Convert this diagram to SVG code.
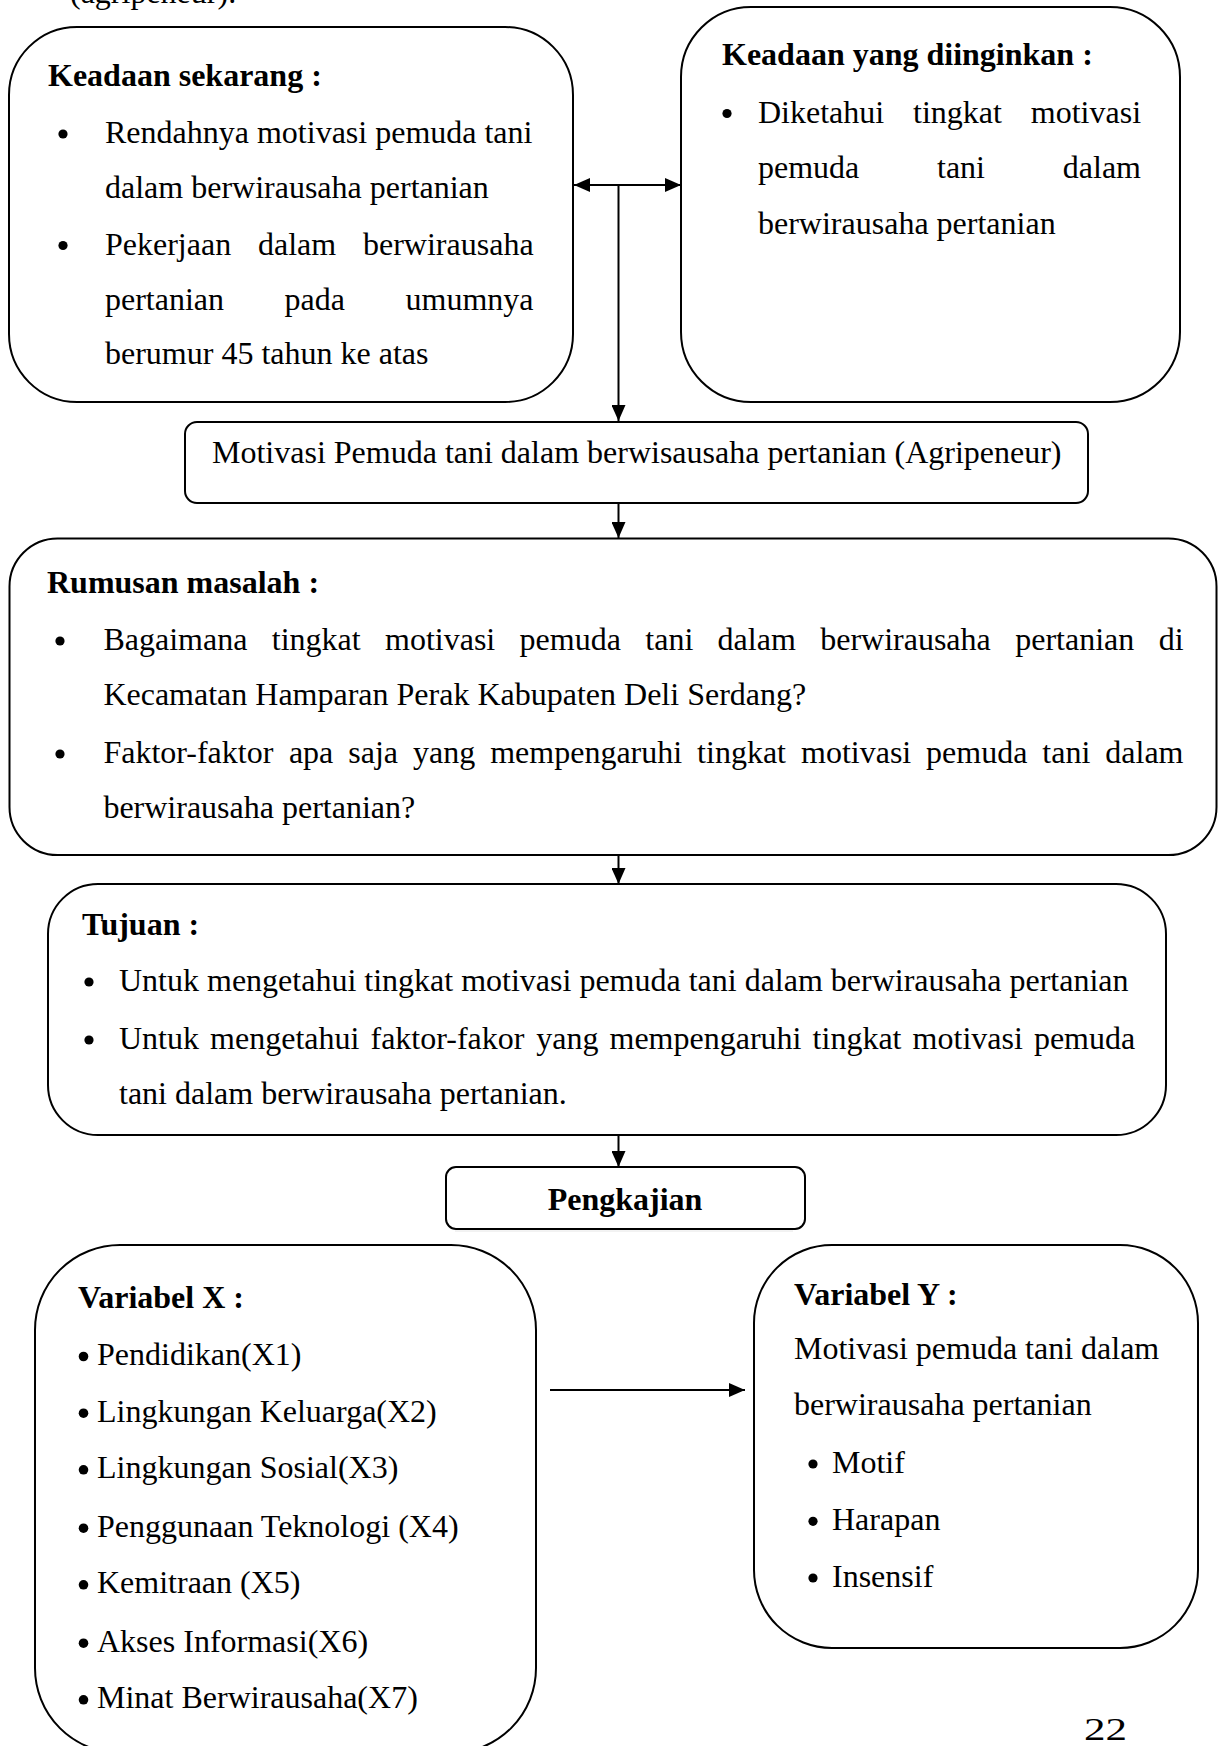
<svg xmlns="http://www.w3.org/2000/svg" width="1219" height="1746" viewBox="0 0 1219 1746">
<style>
.box{fill:none;stroke:#000;stroke-width:2}
.t{font-family:"Liberation Serif","Times New Roman",serif;font-size:32px;fill:#000}
.b{font-weight:bold}
.c{stroke:#000;stroke-width:2;fill:none}
.dot{fill:#000}
</style>
<defs>
<marker id="ah" markerWidth="16" markerHeight="14" refX="16" refY="7" orient="auto-start-reverse" markerUnits="userSpaceOnUse">
<path d="M0,0 L16,7 L0,14 z" fill="#000"/>
</marker>
</defs>
<rect x="0" y="0" width="1219" height="1746" fill="#fff"/>
<text class="t" x="70" y="3">(agripeneur).</text>

<g id="keadaan-sekarang">
<rect class="box" x="9" y="27" width="564" height="375" rx="68"/>
<text class="t b" x="48" y="86">Keadaan sekarang :</text>
<circle class="dot" cx="63" cy="134" r="4.6"/>
<text class="t" x="105" y="143">Rendahnya motivasi pemuda tani</text>
<text class="t" x="105" y="198">dalam berwirausaha pertanian</text>
<circle class="dot" cx="63" cy="245.5" r="4.6"/>
<text class="t" y="254.5"><tspan x="105">Pekerjaan</tspan><tspan x="258">dalam</tspan><tspan x="363">berwirausaha</tspan></text>
<text class="t" y="309.5"><tspan x="105">pertanian</tspan><tspan x="284.5">pada</tspan><tspan x="405.5">umumnya</tspan></text>
<text class="t" x="105" y="364">berumur 45 tahun ke atas</text>
</g>

<g id="keadaan-diinginkan">
<rect class="box" x="681" y="7" width="499" height="395" rx="70"/>
<text class="t b" x="722" y="65">Keadaan yang diinginkan :</text>
<circle class="dot" cx="727" cy="113.5" r="4.6"/>
<text class="t" y="122.5"><tspan x="758">Diketahui</tspan><tspan x="913">tingkat</tspan><tspan x="1030.8">motivasi</tspan></text>
<text class="t" y="178"><tspan x="758">pemuda</tspan><tspan x="937">tani</tspan><tspan x="1062.8">dalam</tspan></text>
<text class="t" x="758" y="233.5">berwirausaha pertanian</text>
</g>

<g id="motivasi">
<rect class="box" x="185" y="422" width="903" height="81" rx="12"/>
<text class="t" x="212" y="463">Motivasi Pemuda tani dalam berwisausaha pertanian (Agripeneur)</text>
</g>

<g id="rumusan-masalah">
<rect class="box" x="9.5" y="538.5" width="1207" height="316.5" rx="48"/>
<text class="t b" x="47" y="593">Rumusan masalah :</text>
<circle class="dot" cx="60" cy="641" r="4.6"/>
<text class="t" y="650"><tspan x="103.4">Bagaimana</tspan><tspan x="271.8">tingkat</tspan><tspan x="385">motivasi</tspan><tspan x="519.6">pemuda</tspan><tspan x="645.3">tani</tspan><tspan x="717.6">dalam</tspan><tspan x="820.2">berwirausaha</tspan><tspan x="1015.2">pertanian</tspan><tspan x="1158.7">di</tspan></text>
<text class="t" x="103.4" y="705">Kecamatan Hamparan Perak Kabupaten Deli Serdang?</text>
<circle class="dot" cx="60" cy="754" r="4.6"/>
<text class="t" y="763"><tspan x="103.4">Faktor-faktor</tspan><tspan x="288.9">apa</tspan><tspan x="348.3">saja</tspan><tspan x="413">yang</tspan><tspan x="490.2">mempengaruhi</tspan><tspan x="697.1">tingkat</tspan><tspan x="801">motivasi</tspan><tspan x="926.1">pemuda</tspan><tspan x="1042.3">tani</tspan><tspan x="1105.3">dalam</tspan></text>
<text class="t" x="103.4" y="818">berwirausaha pertanian?</text>
</g>

<g id="tujuan">
<rect class="box" x="48" y="884" width="1118" height="251" rx="50"/>
<text class="t b" x="82" y="935">Tujuan :</text>
<circle class="dot" cx="89" cy="982" r="4.6"/>
<text class="t" x="119" y="991">Untuk mengetahui tingkat motivasi pemuda tani dalam berwirausaha pertanian</text>
<circle class="dot" cx="89" cy="1040" r="4.6"/>
<text class="t" y="1049"><tspan x="119">Untuk</tspan><tspan x="210.1">mengetahui</tspan><tspan x="370.5">faktor-fakor</tspan><tspan x="536.2">yang</tspan><tspan x="609.5">mempengaruhi</tspan><tspan x="812.6">tingkat</tspan><tspan x="912.6">motivasi</tspan><tspan x="1033.9">pemuda</tspan></text>
<text class="t" x="119" y="1104">tani dalam berwirausaha pertanian.</text>
</g>

<g id="pengkajian">
<rect class="box" x="446" y="1167" width="359" height="62" rx="10"/>
<line x1="455" y1="1231" x2="793" y2="1231" stroke="#e6e6e6" stroke-width="1"/>
<text class="t b" x="625" y="1210" text-anchor="middle">Pengkajian</text>
</g>

<g id="variabel-x">
<rect class="box" x="35" y="1245" width="501" height="508" rx="85"/>
<text class="t b" x="78" y="1308">Variabel X :</text>
<circle class="dot" cx="83.5" cy="1356.5" r="4.8"/><text class="t" x="97" y="1365">Pendidikan(X1)</text>
<circle class="dot" cx="83.5" cy="1413.2" r="4.8"/><text class="t" x="97" y="1421.7">Lingkungan Keluarga(X2)</text>
<circle class="dot" cx="83.5" cy="1469.8" r="4.8"/><text class="t" x="97" y="1478.3">Lingkungan Sosial(X3)</text>
<circle class="dot" cx="83.5" cy="1528.2" r="4.8"/><text class="t" x="97" y="1536.7">Penggunaan Teknologi (X4)</text>
<circle class="dot" cx="83.5" cy="1584.8" r="4.8"/><text class="t" x="97" y="1593.3">Kemitraan (X5)</text>
<circle class="dot" cx="83.5" cy="1643.2" r="4.8"/><text class="t" x="97" y="1651.7">Akses Informasi(X6)</text>
<circle class="dot" cx="83.5" cy="1699.8" r="4.8"/><text class="t" x="97" y="1708.3">Minat Berwirausaha(X7)</text>
</g>

<g id="variabel-y">
<rect class="box" x="754" y="1245" width="444" height="403" rx="78"/>
<text class="t b" x="794" y="1305">Variabel Y :</text>
<text class="t" x="794" y="1359">Motivasi pemuda tani dalam</text>
<text class="t" x="794" y="1415">berwirausaha pertanian</text>
<circle class="dot" cx="813" cy="1464" r="4.6"/><text class="t" x="832" y="1472.7">Motif</text>
<circle class="dot" cx="813" cy="1521.3" r="4.6"/><text class="t" x="832" y="1530">Harapan</text>
<circle class="dot" cx="813" cy="1578" r="4.6"/><text class="t" x="832" y="1586.7">Insensif</text>
</g>

<text class="t" x="1084" y="1740" textLength="43" lengthAdjust="spacingAndGlyphs">22</text>

<g id="connectors">
<line class="c" x1="574" y1="185" x2="681" y2="185" marker-start="url(#ah)" marker-end="url(#ah)"/>
<line class="c" x1="618.5" y1="185" x2="618.5" y2="421" marker-end="url(#ah)"/>
<line class="c" x1="618.5" y1="503" x2="618.5" y2="538" marker-end="url(#ah)"/>
<line class="c" x1="618.5" y1="855" x2="618.5" y2="884" marker-end="url(#ah)"/>
<line class="c" x1="618.5" y1="1135" x2="618.5" y2="1167" marker-end="url(#ah)"/>
<line class="c" x1="550" y1="1390" x2="745" y2="1390" marker-end="url(#ah)"/>
</g>
</svg>
